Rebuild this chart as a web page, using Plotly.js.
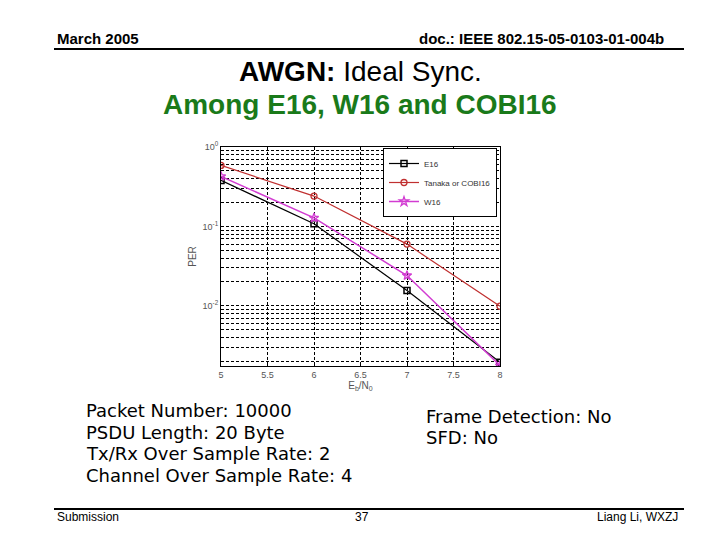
<!DOCTYPE html>
<html>
<head>
<meta charset="utf-8">
<script src="https://cdn.plot.ly/plotly-3.0.1.min.js"></script>
<style>
  html, body { margin: 0; padding: 0; background: #fff; }
  #chart { width: 720px; height: 540px; }
</style>
</head>
<body>
<div id="chart"></div>
<script>
// Eb/N0 points (dB) and PER
var ebn0 = [5, 6, 7, 8];
var perE16 = [0.38, 0.108, 0.0156, 0.00195];
var perCOBI16 = [0.587, 0.241, 0.0599, 0.0099];
var perW16 = [0.427, 0.128, 0.0241, 0.00177];

var xTicks = [5, 5.5, 6, 6.5, 7, 7.5, 8];
var xTickText = ['5', '5.5', '6', '6.5', '7', '7.5', '8'];
var yTicks = [0.01, 0.1, 1];
var yTickText = ['10<sup>-2</sup>', '10<sup>-1</sup>', '10<sup>0</sup>'];

// minor log grid lines, 2..9 in each decade
var yMinor = [];
[0.001, 0.01, 0.1].forEach(function (d) {
  for (var m = 2; m <= 9; m++) yMinor.push(d * m);
});

var e16 = {
  x: ebn0, y: perE16, name: 'E16',
  mode: 'lines+markers', type: 'scatter',
  line: {color: 'black', width: 1.2},
  marker: {symbol: 'square-open', size: 6, color: 'black', line: {width: 1.5}}
};

var cobi16 = {
  x: ebn0, y: perCOBI16, name: 'Tanaka or COBI16',
  mode: 'lines+markers', type: 'scatter',
  line: {color: '#c03030', width: 1.2},
  marker: {symbol: 'circle-open', size: 6, color: '#c03030', line: {width: 1.3}}
};

var w16 = {
  x: ebn0, y: perW16, name: 'W16',
  mode: 'lines+markers', type: 'scatter',
  line: {color: '#d23cd2', width: 1.5},
  marker: {symbol: 'star-open', size: 7, color: '#d23cd2', line: {width: 1.3}}
};

var data = [e16, cobi16, w16];

var W = 720, H = 540;
function px(x) { return x / W; }
function py(y) { return 1 - y / H; }

var mono = 'DejaVu Sans, Verdana, sans-serif';
var annotations = [
  {text: '<b>March 2005</b>', x: px(55), y: py(38), xanchor: 'left', font: {size: 15}},
  {text: '<b>doc.: IEEE 802.15-05-0103-01-004b</b>', x: px(666), y: py(38), xanchor: 'right', font: {size: 15}},
  {text: '<b>AWGN:</b> Ideal Sync.', x: px(360), y: py(72), font: {size: 28}},
  {text: '<b>Among E16, W16 and COBI16</b>', x: px(360), y: py(104), font: {size: 28, color: '#1a7a1a'}},
  {text: 'Packet Number: 10000', x: px(84), y: py(410), xanchor: 'left', font: {size: 18, family: mono}},
  {text: 'PSDU Length: 20 Byte', x: px(84), y: py(432), xanchor: 'left', font: {size: 18, family: mono}},
  {text: 'Tx/Rx Over Sample Rate: 2', x: px(84), y: py(453), xanchor: 'left', font: {size: 18, family: mono}},
  {text: 'Channel Over Sample Rate: 4', x: px(84), y: py(475), xanchor: 'left', font: {size: 18, family: mono}},
  {text: 'Frame Detection: No', x: px(424), y: py(416), xanchor: 'left', font: {size: 18, family: mono}},
  {text: 'SFD: No', x: px(424), y: py(437), xanchor: 'left', font: {size: 18, family: mono}},
  {text: 'Submission', x: px(55), y: py(517), xanchor: 'left', font: {size: 12}},
  {text: '37', x: px(362), y: py(517), font: {size: 12}},
  {text: 'Liang Li, WXZJ', x: px(680), y: py(517), xanchor: 'right', font: {size: 12}}
];
annotations.forEach(function (a) {
  a.xref = 'paper'; a.yref = 'paper'; a.showarrow = false;
  if (!a.xanchor) a.xanchor = 'center';
  a.yanchor = 'middle';
  a.font.family = a.font.family || 'Liberation Sans, Arial, sans-serif';
  a.font.color = a.font.color || 'black';
});

var gridDash = '3px,2px';

var layout = {
  width: W, height: H,
  margin: {l: 0, r: 0, t: 0, b: 0},
  paper_bgcolor: 'white', plot_bgcolor: 'white',
  font: {family: 'Liberation Sans, Arial, sans-serif', color: '#333'},
  showlegend: true,
  legend: {
    x: px(497), y: py(148), xanchor: 'right', yanchor: 'top',
    bgcolor: 'white', bordercolor: 'black', borderwidth: 1,
    font: {size: 8, color: '#333'}, tracegroupgap: 0, itemwidth: 30
  },
  xaxis: {
    domain: [px(221), px(500)],
    range: [5, 8],
    tickvals: xTicks, ticktext: xTickText,
    showgrid: true, gridcolor: 'black', griddash: gridDash, gridwidth: 1,
    showline: true, linecolor: 'black', linewidth: 1, mirror: true,
    ticks: 'inside', ticklen: 4, tickcolor: 'black',
    zeroline: false,
    tickfont: {size: 9, color: '#555'},
    title: {text: 'E<sub>b</sub>/N<sub>0</sub>', font: {size: 10, color: '#555'}, standoff: 2}
  },
  yaxis: {
    domain: [py(366), py(147)],
    type: 'log',
    range: [Math.log10(0.00175), 0],
    tickvals: yTicks, ticktext: yTickText,
    showgrid: true, gridcolor: 'black', griddash: gridDash, gridwidth: 1,
    minor: {tickmode: 'array', tickvals: yMinor, showgrid: true, gridcolor: 'black', griddash: gridDash, gridwidth: 1, ticks: ''},
    showline: true, linecolor: 'black', linewidth: 1, mirror: true,
    ticks: '', zeroline: false,
    tickfont: {size: 9, color: '#555'},
    title: {text: 'PER', font: {size: 10, color: '#555'}, standoff: 4}
  },
  annotations: annotations,
  shapes: [
    {type: 'line', xref: 'paper', yref: 'paper', x0: px(54), x1: px(684), y0: py(49), y1: py(49), line: {color: 'black', width: 2}},
    {type: 'line', xref: 'paper', yref: 'paper', x0: px(54), x1: px(684), y0: py(509), y1: py(509), line: {color: 'black', width: 2}}
  ]
};

Plotly.newPlot('chart', data, layout, {displayModeBar: false, staticPlot: true});
</script>
</body>
</html>
